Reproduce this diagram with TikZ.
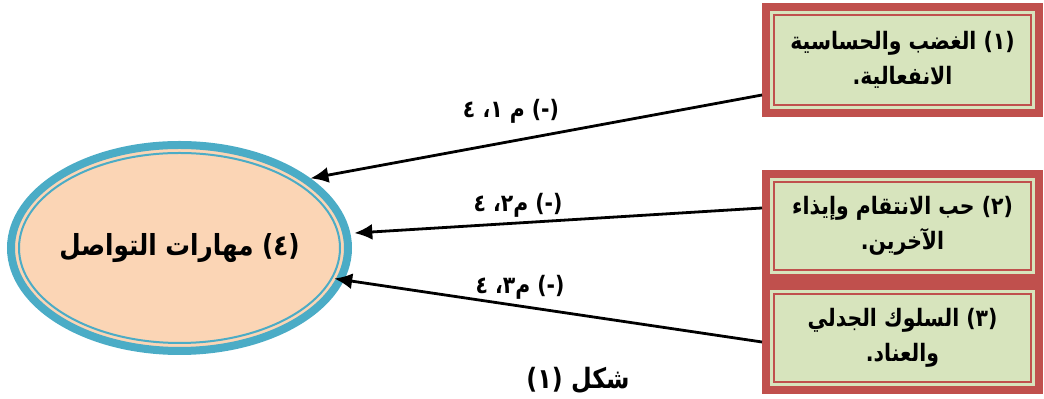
\documentclass[tikz,border=0pt]{standalone}
\usepackage{fontspec}
\usepackage{xcolor}
\usetikzlibrary{positioning,arrows.meta,shapes.geometric}
\newfontfamily\arabicfont[Script=Arabic, FakeStretch=0.85]{DejaVu Sans}
\TeXXeTstate=1
\newcommand{\ar}[1]{\beginR #1\endR}
\definecolor{boxred}{HTML}{C0504D}
\definecolor{boxgreen}{HTML}{D7E4BD}
\definecolor{ellblue}{HTML}{4BACC6}
\definecolor{ellcream}{HTML}{FBD5B5}

\begin{document}
\begin{tikzpicture}[
    x=0.5pt, y=-0.5pt,
    every node/.style={font=\arabicfont\bfseries},
    factor/.style={rectangle, draw=boxred, line width=4pt, fill=boxgreen,
                   minimum width=136.5pt, minimum height=52pt, inner sep=0pt,
                   align=center, font=\arabicfont\bfseries\fontsize{12}{17.5}\selectfont,
                   path picture={\draw[boxred, line width=1pt]
                     ([shift={(4pt,-4pt)}]path picture bounding box.north west) rectangle
                     ([shift={(-4pt,4pt)}]path picture bounding box.south east);}},
    skill/.style={ellipse, draw=ellblue, line width=4pt, fill=ellcream,
                  minimum width=168.5pt, minimum height=103pt, inner sep=0pt, inner xsep=-10pt,
                  font=\arabicfont\bfseries\fontsize{14.5}{17}\selectfont,
                  path picture={\draw[ellblue, line width=1pt]
                    (path picture bounding box.center) ellipse [x radius=80.25pt, y radius=47.5pt];}},
    coef/.style={font=\arabicfont\bfseries\fontsize{12}{14}\selectfont, inner sep=1pt},
    arr/.style={-{Latex[length=9pt,width=8pt]}, line width=1.4pt}
]
\useasboundingbox (0,0) rectangle (1044,399);
\node[factor, minimum height=53pt] (anger)   at (902.5,60)  {\ar{(١) الغضب والحساسية}\\\ar{الانفعالية.}};
\node[factor]                      (revenge) at (902.5,226) {\ar{(٢) حب الانتقام وإيذاء}\\\ar{الآخرين.}};
\node[factor, below=0pt of revenge] (stub)   {\ar{(٣) السلوك الجدلي}\\\ar{والعناد.}};
\node[skill]                       (comm)    at (179.5,248) {\ar{(٤) مهارات التواصل}};
\node[coef] (c1) at (511,111) {\ar{(-) م ١، ٤}};
\node[coef] (c2) at (518,205) {\ar{(-) م٢، ٤}};
\node[coef] (c3) at (520,287) {\ar{(-) م٣، ٤}};
\node[font=\arabicfont\bfseries\fontsize{14}{16}\selectfont] (fig) at (578,380) {\ar{شكل (١)}};
\draw[arr] ([yshift=-17.5pt]anger.west) -- (comm.28);
\draw[arr] ([yshift=9pt]revenge.west)   -- ([xshift=2pt]comm.5);
\draw[arr, shorten >=-5pt] ([yshift=-2pt]stub.west) -- (comm.-11);
\end{tikzpicture}
\end{document}
